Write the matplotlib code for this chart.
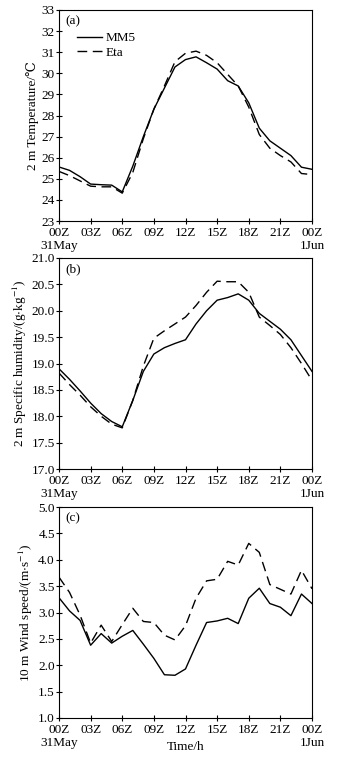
import matplotlib
matplotlib.use('Agg')
import matplotlib.pyplot as plt

plt.rcParams['font.family'] = ['Liberation Serif', 'DejaVu Serif']
plt.rcParams['mathtext.fontset'] = 'stix'

hours = list(range(25))
tick_pos = [0, 3, 6, 9, 12, 15, 18, 21, 24]
tick_labels = ['00Z\n31May', '03Z', '06Z', '09Z', '12Z', '15Z', '18Z', '21Z', '00Z\n1Jun']

# 2 m temperature
t_mm5 = [25.56, 25.4, 25.1, 24.75, 24.72, 24.7, 24.38, 25.6, 27.0, 28.3, 29.3, 30.3, 30.65,
         30.78, 30.5, 30.2, 29.65, 29.4, 28.6, 27.4, 26.8, 26.45, 26.1, 25.55, 25.45]
t_eta = [25.35, 25.15, 24.9, 24.65, 24.62, 24.62, 24.32, 25.3, 26.9, 28.3, 29.4, 30.55, 30.95,
         31.05, 30.85, 30.5, 29.95, 29.4, 28.4, 27.1, 26.45, 26.1, 25.8, 25.25, 25.2]

# 2 m specific humidity
q_mm5 = [18.9, 18.7, 18.48, 18.25, 18.05, 17.9, 17.8, 18.3, 18.85, 19.18, 19.3, 19.38, 19.45,
         19.75, 20.0, 20.2, 20.25, 20.32, 20.2, 19.95, 19.8, 19.65, 19.45, 19.15, 18.85]
q_eta = [18.82, 18.6, 18.4, 18.18, 18.0, 17.85, 17.78, 18.3, 18.95, 19.48, 19.62, 19.75, 19.88,
         20.1, 20.35, 20.56, 20.55, 20.55, 20.35, 19.88, 19.72, 19.55, 19.3, 19.0, 18.68]

# 10 m wind speed
w_mm5 = [3.28, 3.03, 2.85, 2.38, 2.6, 2.42, 2.55, 2.66, 2.4, 2.13, 1.82, 1.81, 1.93,
         2.38, 2.81, 2.84, 2.89, 2.79, 3.27, 3.46, 3.17, 3.1, 2.94, 3.35, 3.17]
w_eta = [3.67, 3.38, 2.95, 2.42, 2.76, 2.45, 2.77, 3.08, 2.83, 2.81, 2.57, 2.48, 2.75,
         3.27, 3.6, 3.63, 3.97, 3.9, 4.31, 4.14, 3.53, 3.44, 3.35, 3.8, 3.45]

panels = [
    (t_mm5, t_eta, '(a)', '2 m Temperature/\u2103', (23, 33), range(23, 34), '%d'),
    (q_mm5, q_eta, '(b)', '2 m Specific humidity/(g$\\cdot$kg$^{-1}$)', (17, 21),
     [17 + 0.5 * i for i in range(9)], '%.1f'),
    (w_mm5, w_eta, '(c)', '10 m Wind speed/(m$\\cdot$s$^{-1}$)', (1, 5),
     [1 + 0.5 * i for i in range(9)], '%.1f'),
]

fig = plt.figure(figsize=(3.52, 7.62), dpi=100)
bottoms = [762 - 221, 762 - 469, 762 - 718]
for i, (mm5, eta, tag, ylab, ylim, yt, fmt) in enumerate(panels):
    ax = fig.add_axes([59 / 352, bottoms[i] / 762, 253 / 352, 211 / 762])
    ax.plot(hours, mm5, color='black', lw=1.0, label='MM5')
    ax.plot(hours, eta, color='black', lw=1.0, dashes=(7, 4), label='Eta')
    ax.set_xlim(0, 24)
    ax.set_ylim(*ylim)
    ax.set_xticks(tick_pos)
    ax.set_xticklabels(tick_labels, fontsize=9.5)
    ax.set_yticks(list(yt))
    ax.set_yticklabels([fmt % v for v in yt], fontsize=9.5)
    ax.tick_params(direction='inout', length=4, width=0.8)
    ax.tick_params(axis='y', pad=1)
    ax.tick_params(axis='x', pad=2)
    ax.set_ylabel(ylab, fontsize=9.5, labelpad=2)
    ax.text(0.025, 0.975, tag, transform=ax.transAxes, fontsize=9.5, va='top', ha='left')
    for s in ax.spines.values():
        s.set_linewidth(0.8)
    if i == 0:
        ax.legend(loc='upper left', bbox_to_anchor=(0.05, 0.92), frameon=False, fontsize=9.5,
                  handlelength=1.9, handletextpad=0.3, labelspacing=0.15, borderaxespad=0)
    if i == 2:
        ax.set_xlabel('Time/h', fontsize=9.5, labelpad=-6)

fig.savefig('out.png', dpi=100)
